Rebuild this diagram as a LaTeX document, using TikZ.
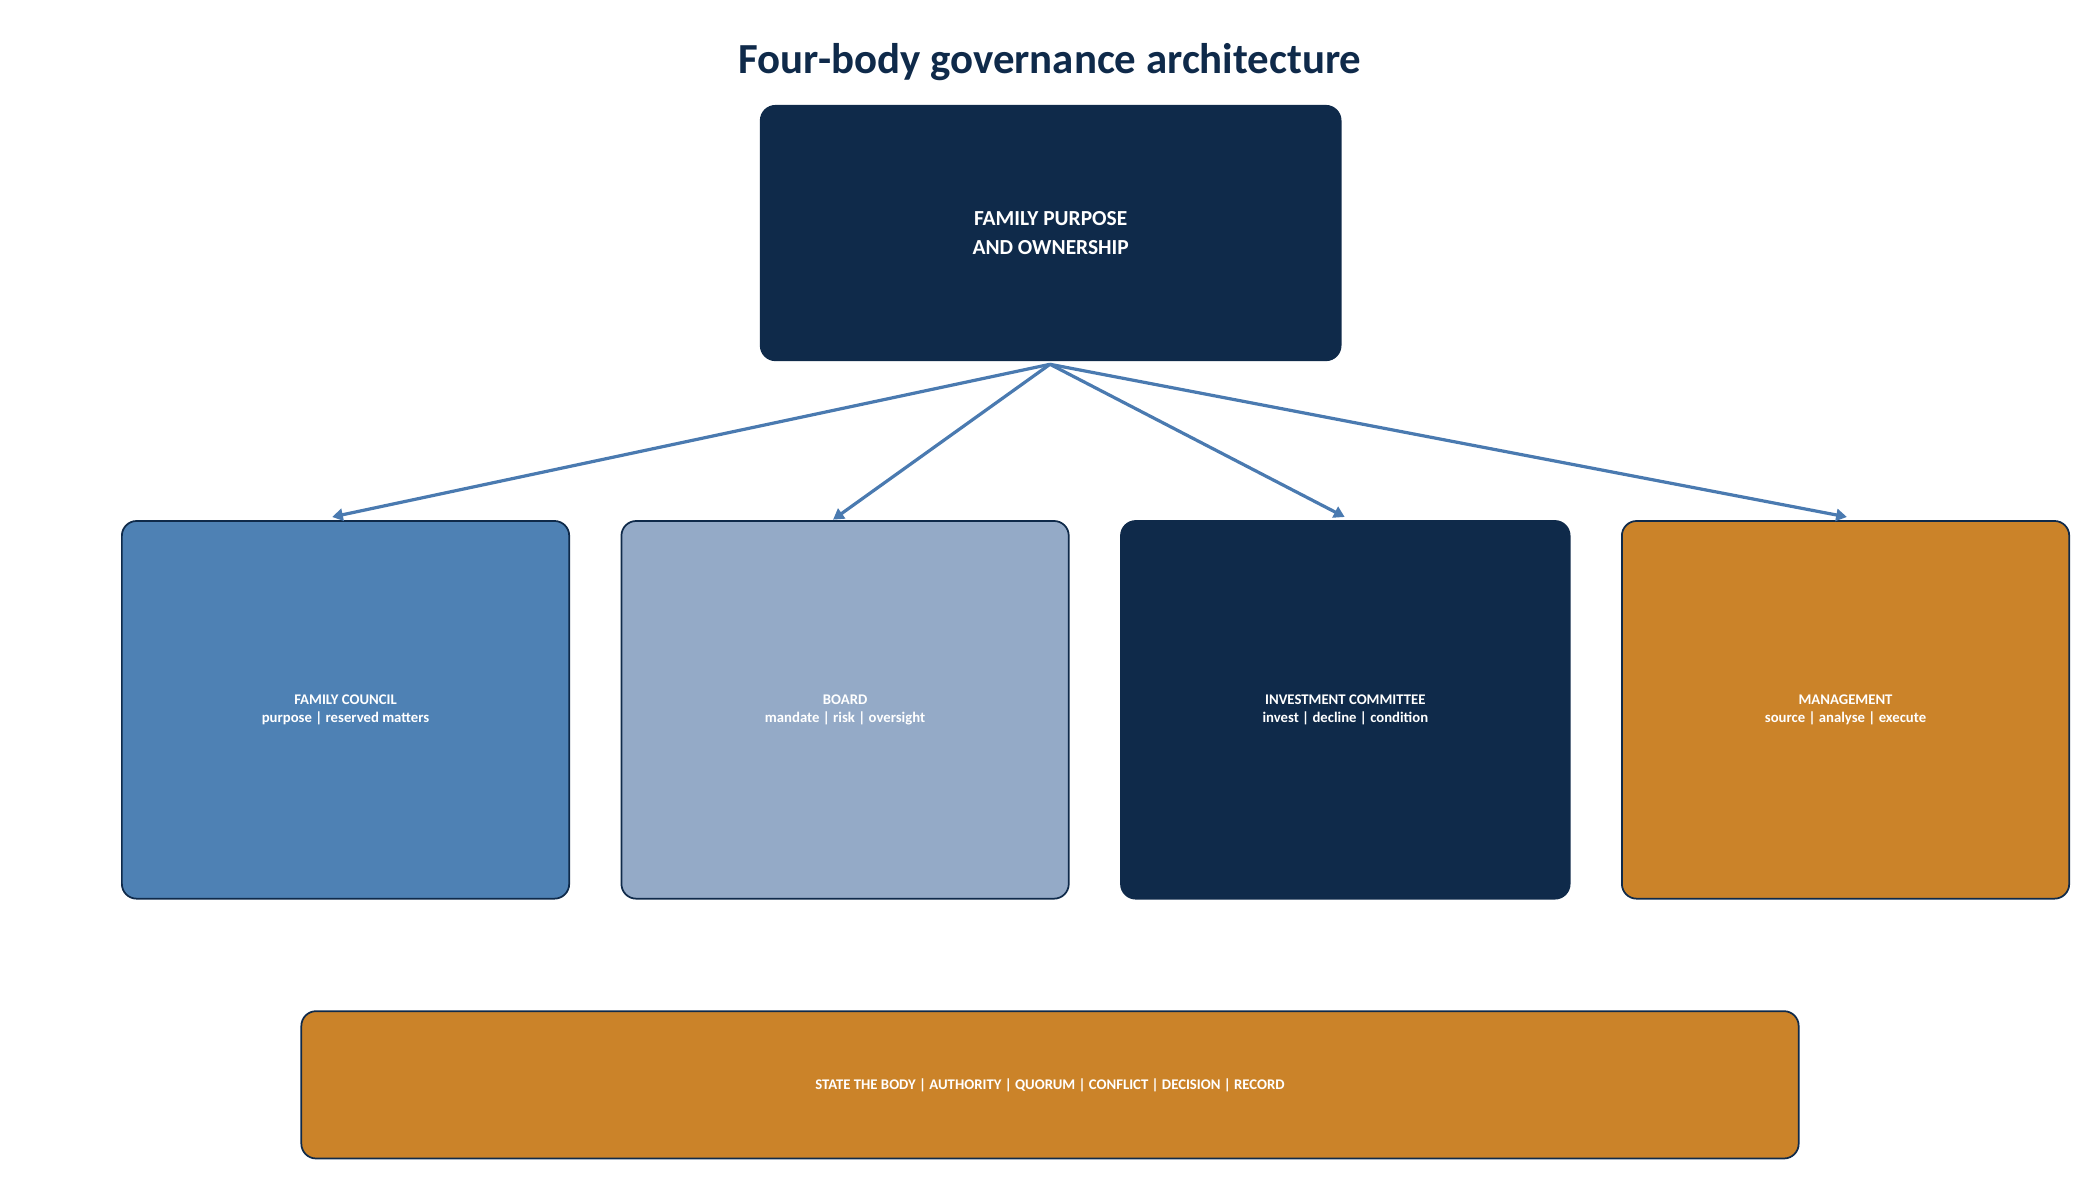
\documentclass[tikz,border=0pt]{standalone}
\usepackage{fontspec}
\setmainfont{Carlito}
\usetikzlibrary{arrows.meta}
\definecolor{navy}{HTML}{0F2A4A}
\definecolor{blue}{HTML}{4E81B4}
\definecolor{pale}{HTML}{94AAC7}
\definecolor{amber}{HTML}{CB8329}
\definecolor{arr}{HTML}{4A7AB0}
\tikzset{
 box/.style={draw=navy,line width=1.3pt,rounded corners=11pt,text=white,align=center,font=\bfseries\fontsize{11}{14}\selectfont},
 link/.style={draw=arr,line width=2.4pt,-{Triangle[length=8pt,width=9pt]}}
}
\begin{document}
\begin{tikzpicture}[x=1pt,y=-1pt]
\useasboundingbox (0,0) rectangle (1568,881);
\node[font=\bfseries\fontsize{32}{38}\selectfont,text=navy] (title) at (784,46) {Four-body governance architecture};
\node[box,fill=navy,draw=navy,minimum width=433pt,minimum height=190pt,font=\bfseries\fontsize{16}{21}\selectfont] (top) at (784.5,174) {FAMILY PURPOSE\\AND OWNERSHIP};
\node[box,fill=blue,minimum width=334pt,minimum height=282pt] (fc) at (258,530) {FAMILY COUNCIL\\purpose | reserved matters};
\node[box,fill=pale,minimum width=334pt,minimum height=282pt] (bd) at (631,530) {BOARD\\mandate | risk | oversight};
\node[box,fill=navy,minimum width=335pt,minimum height=282pt] (ic) at (1004.5,530) {INVESTMENT COMMITTEE\\invest | decline | condition};
\node[box,fill=amber,minimum width=334pt,minimum height=282pt] (mg) at (1378,530) {MANAGEMENT\\source | analyse | execute};
\node[box,fill=amber,minimum width=1118pt,minimum height=110pt] (st) at (784,810) {STATE THE BODY | AUTHORITY | QUORUM | CONFLICT | DECISION | RECORD};
\coordinate (o) at (784,272);
\coordinate (a1) at (248,386);
\coordinate (a2) at (622,388);
\coordinate (a3) at (1004,386);
\coordinate (a4) at (1379,386);
\draw[link] (o) -- (a1);
\draw[link] (o) -- (a2);
\draw[link] (o) -- (a3);
\draw[link] (o) -- (a4);
\end{tikzpicture}
\end{document}
